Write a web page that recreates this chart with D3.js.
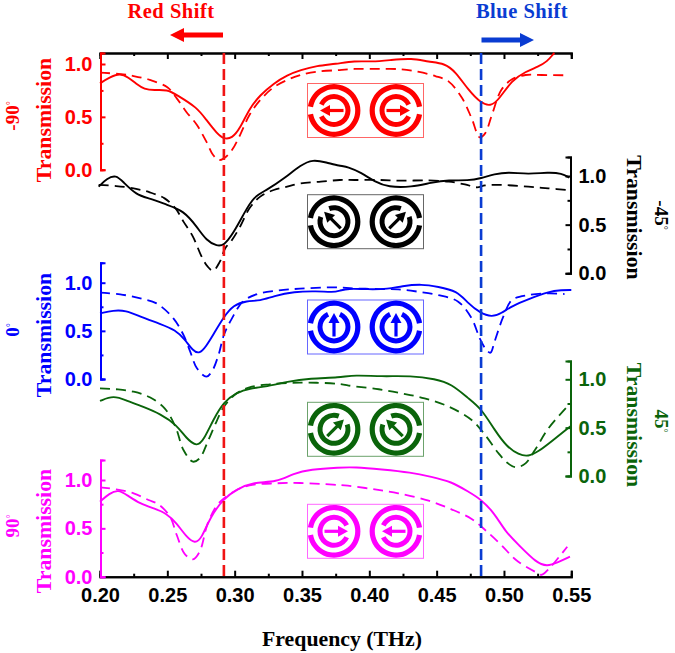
<!DOCTYPE html>
<html>
<head>
<meta charset="utf-8">
<script src="https://cdnjs.cloudflare.com/ajax/libs/d3/7.8.5/d3.min.js"></script>
<style>
  html, body { margin: 0; padding: 0; background: #fff; }
  svg { display: block; }
  .num { font-family: "Liberation Sans", Arial, sans-serif; font-weight: 700; font-size: 20px; }
  .lab { font-family: "Liberation Serif", "Times New Roman", serif; font-weight: 700; font-size: 21.8px; }
</style>
</head>
<body>
<div id="chart"></div>
<script>
// values: [frequency (THz), transmission]
const redSolid = [[.2,.817],[.207,.874],[.215,.915],[.221,.874],[.227,.811],[.233,.76],[.24,.75],[.25,.76],[.257,.707],[.272,.59],[.279,.47],[.287,.34],[.292,.29],[.298,.296],[.304,.39],[.311,.58],[.319,.707],[.329,.817],[.339,.896],[.349,.943],[.361,.984],[.375,1.0],[.389,1.03],[.402,1.02],[.416,1.038],[.4315,1.056],[.444,1.02],[.456,1.006],[.464,.927],[.4735,.754],[.483,.628],[.49,.6],[.496,.659],[.506,.849],[.516,.927],[.5255,.975],[.532,1.022],[.537,1.1],[.5375,1.104]];
const redDash = [[.2,.918],[.215,.905],[.225,.886],[.237,.849],[.25,.78],[.257,.675],[.264,.549],[.272,.423],[.279,.265],[.284,.139],[.288,.091],[.292,.107],[.298,.186],[.304,.328],[.311,.517],[.319,.659],[.329,.78],[.339,.849],[.349,.896],[.361,.927],[.378,.943],[.389,.953],[.407,.953],[.424,.95],[.436,.927],[.449,.886],[.459,.833],[.469,.675],[.476,.486],[.482,.306],[.486,.344],[.491,.517],[.498,.754],[.506,.855],[.516,.896],[.528,.896],[.548,.893]];
const blackSolid = [[.199,.89],[.205,.976],[.212,1.01],[.217,.942],[.227,.805],[.237,.77],[.25,.702],[.262,.644],[.272,.479],[.279,.336],[.287,.278],[.292,.285],[.299,.411],[.307,.616],[.314,.788],[.324,.856],[.337,.976],[.349,1.113],[.358,1.17],[.368,1.14],[.378,1.103],[.384,1.096],[.394,1.034],[.404,.942],[.414,.885],[.4315,.885],[.446,.932],[.459,.959],[.4735,.952],[.483,.976],[.493,1.02],[.503,1.041],[.518,1.017],[.533,1.038],[.543,1.027],[.5485,.983]];
const blackDash = [[.199,.908],[.212,.897],[.225,.873],[.237,.832],[.248,.77],[.256,.668],[.262,.531],[.269,.377],[.2755,.171],[.28,.068],[.284,.027],[.289,.12],[.293,.257],[.298,.342],[.304,.479],[.311,.668],[.319,.788],[.329,.856],[.339,.89],[.349,.925],[.364,.942],[.378,.959],[.389,.959],[.407,.959],[.424,.952],[.444,.955],[.459,.942],[.471,.914],[.48,.884],[.486,.904],[.498,.908],[.518,.89],[.533,.873],[.548,.856]];
const blueSolid = [[.2,.682],[.21,.713],[.219,.713],[.23,.647],[.245,.571],[.256,.509],[.263,.412],[.269,.291],[.274,.26],[.279,.343],[.284,.457],[.292,.647],[.299,.768],[.309,.813],[.319,.81],[.329,.862],[.344,.907],[.361,.913],[.373,.9],[.378,.917],[.384,.941],[.399,.931],[.414,.934],[.424,.965],[.439,.986],[.451,.958],[.465,.917],[.4735,.785],[.482,.689],[.491,.64],[.498,.682],[.506,.758],[.518,.827],[.533,.907],[.543,.924],[.55,.924]];
const blueDash = [[.2,.896],[.215,.879],[.23,.837],[.242,.785],[.2545,.63],[.262,.457],[.267,.284],[.272,.111],[.279,.024],[.283,.076],[.288,.249],[.292,.457],[.298,.63],[.306,.803],[.316,.879],[.331,.917],[.3485,.938],[.373,.952],[.389,.941],[.407,.934],[.4215,.931],[.436,.907],[.451,.872],[.466,.803],[.476,.63],[.482,.422],[.487,.301],[.49,.273],[.493,.388],[.4995,.647],[.506,.82],[.518,.872],[.533,.889],[.545,.882]];
const greenSolid = [[.2,.776],[.21,.835],[.22,.779],[.232,.717],[.245,.641],[.257,.528],[.264,.39],[.272,.3],[.277,.372],[.284,.579],[.292,.769],[.3015,.862],[.311,.907],[.324,.924],[.339,.976],[.356,1.01],[.378,1.017],[.389,1.045],[.409,1.028],[.431,1.038],[.449,1.003],[.461,.952],[.4735,.803],[.483,.7],[.493,.476],[.502,.303],[.511,.22],[.518,.2],[.5255,.252],[.535,.355],[.55,.521]];
const greenDash = [[.2,.907],[.212,.897],[.225,.872],[.237,.814],[.248,.7],[.256,.51],[.262,.269],[.269,.148],[.274,.183],[.28,.355],[.287,.579],[.292,.717],[.3015,.855],[.311,.917],[.326,.948],[.3485,.966],[.378,.952],[.387,.931],[.407,.897],[.424,.855],[.441,.803],[.459,.717],[.476,.579],[.486,.424],[.496,.234],[.503,.131],[.509,.09],[.516,.131],[.523,.269],[.533,.493],[.548,.734]];
const magentaSolid = [[.2,.776],[.207,.862],[.2136,.9],[.22,.845],[.23,.752],[.24,.707],[.2495,.655],[.257,.552],[.264,.414],[.2705,.34],[.2755,.397],[.282,.621],[.292,.81],[.3015,.903],[.314,.979],[.331,.976],[.344,1.07],[.356,1.11],[.378,1.13],[.389,1.134],[.409,1.11],[.431,1.079],[.446,1.034],[.461,.983],[.4735,.879],[.483,.8],[.493,.655],[.501,.466],[.511,.328],[.524,.145],[.532,.105],[.54,.148],[.549,.207]];
const magentaDash = [[.2,.924],[.212,.903],[.225,.862],[.236,.793],[.243,.752],[.252,.621],[.257,.431],[.263,.234],[.269,.179],[.274,.259],[.28,.552],[.287,.741],[.292,.81],[.3015,.897],[.311,.945],[.331,.966],[.3485,.969],[.373,.952],[.384,.941],[.402,.907],[.4215,.862],[.444,.786],[.461,.697],[.476,.597],[.486,.483],[.498,.328],[.509,.172],[.523,.052],[.528,.02],[.533,.076],[.538,.155],[.547,.31]];

const xTicks = [0.20, 0.25, 0.30, 0.35, 0.40, 0.45, 0.50, 0.55];
const xMinorTicks = [0.225, 0.275, 0.325, 0.375, 0.425, 0.475, 0.525];
const yTicks = [0, 0.5, 1];
const yMinorTicks = [0.25, 0.75];
const redShiftAt = 0.292;
const blueShiftAt = 0.483;

const width = 675, height = 653;
const x = d3.scaleLinear().domain([0.2, 0.55]).range([100, 571.3]);

// layout of the five stacked panels
const panels = [
  { angle: "-90", color: "#ff0000", solid: redSolid, dash: redDash, side: "left", y0: 169.7, y1: 64, top: 1.104, boxY: 83.5, arrows: [180, 0], titleY: 120, angleY: 116 },
  { angle: "-45", color: "#000000", solid: blackSolid, dash: blackDash, side: "right", y0: 273.3, y1: 176, top: 1.195, boxY: 194.7, arrows: [135, 45], titleY: 217.5, angleY: 215 },
  { angle: "0", color: "#0000ff", solid: blueSolid, dash: blueDash, side: "left", y0: 379, y1: 282.7, top: 1.207, boxY: 300, arrows: [90, 90], titleY: 335, angleY: 330 },
  { angle: "45", color: "#0a640a", solid: greenSolid, dash: greenDash, side: "right", y0: 476, y1: 379.3, top: 1.19, boxY: 402.3, arrows: [45, 135], titleY: 425, angleY: 421 },
  { angle: "90", color: "#ff00ff", solid: magentaSolid, dash: magentaDash, side: "left", y0: 576.7, y1: 480, top: 1.207, boxY: 504.3, arrows: [0, 180], titleY: 531, angleY: 526 }
];

const svg = d3.select("#chart").append("svg")
  .attr("width", width)
  .attr("height", height)
  .attr("viewBox", `0 0 ${width} ${height}`);

// shared frequency axes, top and bottom
const topAxis = svg.append("g").attr("transform", "translate(0,53)");
topAxis.call(d3.axisTop(x).tickValues(xTicks).tickSize(-6).tickFormat(""));
topAxis.append("g").call(d3.axisTop(x).tickValues(xMinorTicks).tickSize(-3).tickFormat(""));

const bottomAxis = svg.append("g").attr("transform", "translate(0,576.7)");
bottomAxis.call(d3.axisBottom(x).tickValues(xTicks).tickSize(-6).tickPadding(11).tickFormat(d3.format(".2f")));
bottomAxis.append("g").call(d3.axisBottom(x).tickValues(xMinorTicks).tickSize(-3).tickFormat(""));
bottomAxis.selectAll("text").attr("class", "num").attr("fill", "#000").attr("font-size", null).attr("font-family", null);
svg.selectAll("path.domain, .tick line").attr("stroke", "#000").attr("stroke-width", 2);

const solidLine = d3.line().curve(d3.curveBasis);
const dashLine = d3.line().curve(d3.curveCatmullRom.alpha(0.5));

function drawRing(g, cx, cy, r, sw, gapAngle, gapDeg, color) {
  // arc angles in d3 run clockwise from 12 o'clock
  const mid = (90 - gapAngle) * Math.PI / 180;
  const half = gapDeg / 2 * Math.PI / 180;
  g.append("path")
    .attr("transform", `translate(${cx},${cy})`)
    .attr("d", d3.arc()({
      innerRadius: r - sw / 2,
      outerRadius: r + sw / 2,
      startAngle: mid + half,
      endAngle: mid + Math.PI * 2 - half
    }))
    .attr("fill", color);
}

function drawIcon(p) {
  const g = svg.append("g");
  const boxX = 307.5, boxW = 116, boxH = 54;
  g.append("rect")
    .attr("x", boxX).attr("y", p.boxY)
    .attr("width", boxW).attr("height", boxH)
    .attr("fill", "#fff")
    .attr("stroke", p.color === "#000000" ? "#666" : p.color)
    .attr("stroke-opacity", p.color === "#000000" ? 1 : 0.6)
    .attr("stroke-width", 1);

  const cy = p.boxY + 27;
  const centers = [334, 396];
  const outerGaps = [180, 0];
  centers.forEach((cx, i) => {
    const a = p.arrows[i] * Math.PI / 180;
    drawRing(g, cx, cy, 23.8, 5.2, outerGaps[i], 18, p.color);
    drawRing(g, cx, cy, 14, 5, p.arrows[i], 50, p.color);
    // arrow through the inner ring's opening
    const dx = Math.cos(a), dy = -Math.sin(a);
    const tip = 14, back = -9.5, headLen = 10, headW = 5.5;
    g.append("line")
      .attr("x1", cx + dx * back).attr("y1", cy + dy * back)
      .attr("x2", cx + dx * (tip - headLen + 1)).attr("y2", cy + dy * (tip - headLen + 1))
      .attr("stroke", p.color).attr("stroke-width", 3.2);
    const hx = cx + dx * (tip - headLen), hy = cy + dy * (tip - headLen);
    g.append("path")
      .attr("d", d3.line()([
        [cx + dx * tip, cy + dy * tip],
        [hx - dy * headW, hy + dx * headW],
        [hx + dy * headW, hy - dx * headW]
      ]) + "Z")
      .attr("fill", p.color);
  });
}

panels.forEach(p => {
  const y = d3.scaleLinear().domain([0, 1]).range([p.y0, p.y1]);
  const yAxisScale = y.copy().domain([0, p.top]).range([p.y0, y(p.top)]);
  const isLeft = p.side === "left";
  const axisX = isLeft ? 100.5 : 570.5;
  const makeAxis = isLeft ? d3.axisLeft : d3.axisRight;

  drawIcon(p);

  const xy = s => s.map(d => [x(d[0]), y(d[1])]);
  svg.append("path").attr("d", dashLine(xy(p.dash)))
    .attr("fill", "none").attr("stroke", p.color)
    .attr("stroke-width", 1.8).attr("stroke-dasharray", "10,6");
  svg.append("path").attr("d", solidLine(xy(p.solid)))
    .attr("fill", "none").attr("stroke", p.color)
    .attr("stroke-width", 1.9);

  const axis = svg.append("g").attr("transform", `translate(${axisX},0)`);
  axis.call(makeAxis(yAxisScale).tickValues(yTicks).tickSize(-5).tickPadding(8)
    .tickFormat(d3.format(".1f")));
  axis.append("g").call(makeAxis(yAxisScale).tickValues(yMinorTicks).tickSize(-3).tickFormat(""));
  axis.selectAll("path.domain, .tick line").attr("stroke", p.color).attr("stroke-width", 2);
  axis.selectAll("text")
    .attr("class", "num").attr("fill", p.color)
    .attr("font-size", null).attr("font-family", null);

  // "Transmission" title and the polarisation angle beside it
  const titleX = isLeft ? 51 : 627;
  const angleX = isLeft ? 19 : 655;
  const rot = isLeft ? -90 : 90;
  svg.append("text").attr("class", "lab")
    .attr("transform", `translate(${titleX},${p.titleY}) rotate(${rot})`)
    .attr("text-anchor", "middle").attr("fill", p.color)
    .text("Transmission");
  const t = svg.append("text").attr("class", "lab")
    .attr("transform", `translate(${angleX},${p.angleY}) rotate(${rot})`)
    .attr("text-anchor", "middle").attr("fill", p.color)
    .style("font-size", "19px");
  t.append("tspan").text(p.angle);
  t.append("tspan").style("font-size", "10px").attr("font-weight", 400).attr("dy", -5).text("°");
});

// shift markers
svg.append("line")
  .attr("x1", x(redShiftAt)).attr("x2", x(redShiftAt)).attr("y1", 53).attr("y2", 576)
  .attr("stroke", "#f01414").attr("stroke-width", 2.6).attr("stroke-dasharray", "11,5");
svg.append("line")
  .attr("x1", x(blueShiftAt)).attr("x2", x(blueShiftAt)).attr("y1", 53).attr("y2", 576)
  .attr("stroke", "#0a3cd2").attr("stroke-width", 2.6).attr("stroke-dasharray", "11,5");

function shiftArrow(x1, x2, yy, color) {
  const dir = x2 > x1 ? 1 : -1;
  svg.append("line").attr("x1", x1).attr("x2", x2 - dir * 12).attr("y1", yy).attr("y2", yy)
    .attr("stroke", color).attr("stroke-width", 5);
  svg.append("path")
    .attr("d", d3.line()([[x2, yy], [x2 - dir * 14, yy - 7], [x2 - dir * 14, yy + 7]]) + "Z")
    .attr("fill", color);
}
shiftArrow(223, 170, 35, "#ff0000");
shiftArrow(481.5, 534, 40, "#0a3cd2");

svg.append("text").attr("class", "lab").attr("x", 171).attr("y", 18)
  .attr("text-anchor", "middle").attr("fill", "#ff0000").style("font-size", "20.5px").style("letter-spacing", "0.5px").text("Red Shift");
svg.append("text").attr("class", "lab").attr("x", 522).attr("y", 18)
  .attr("text-anchor", "middle").attr("fill", "#0a3cd2").style("font-size", "20.5px").style("letter-spacing", "0.5px").text("Blue Shift");
svg.append("text").attr("class", "lab").attr("x", 342).attr("y", 646)
  .attr("text-anchor", "middle").attr("fill", "#000").text("Frequency (THz)");
</script>
</body>
</html>
